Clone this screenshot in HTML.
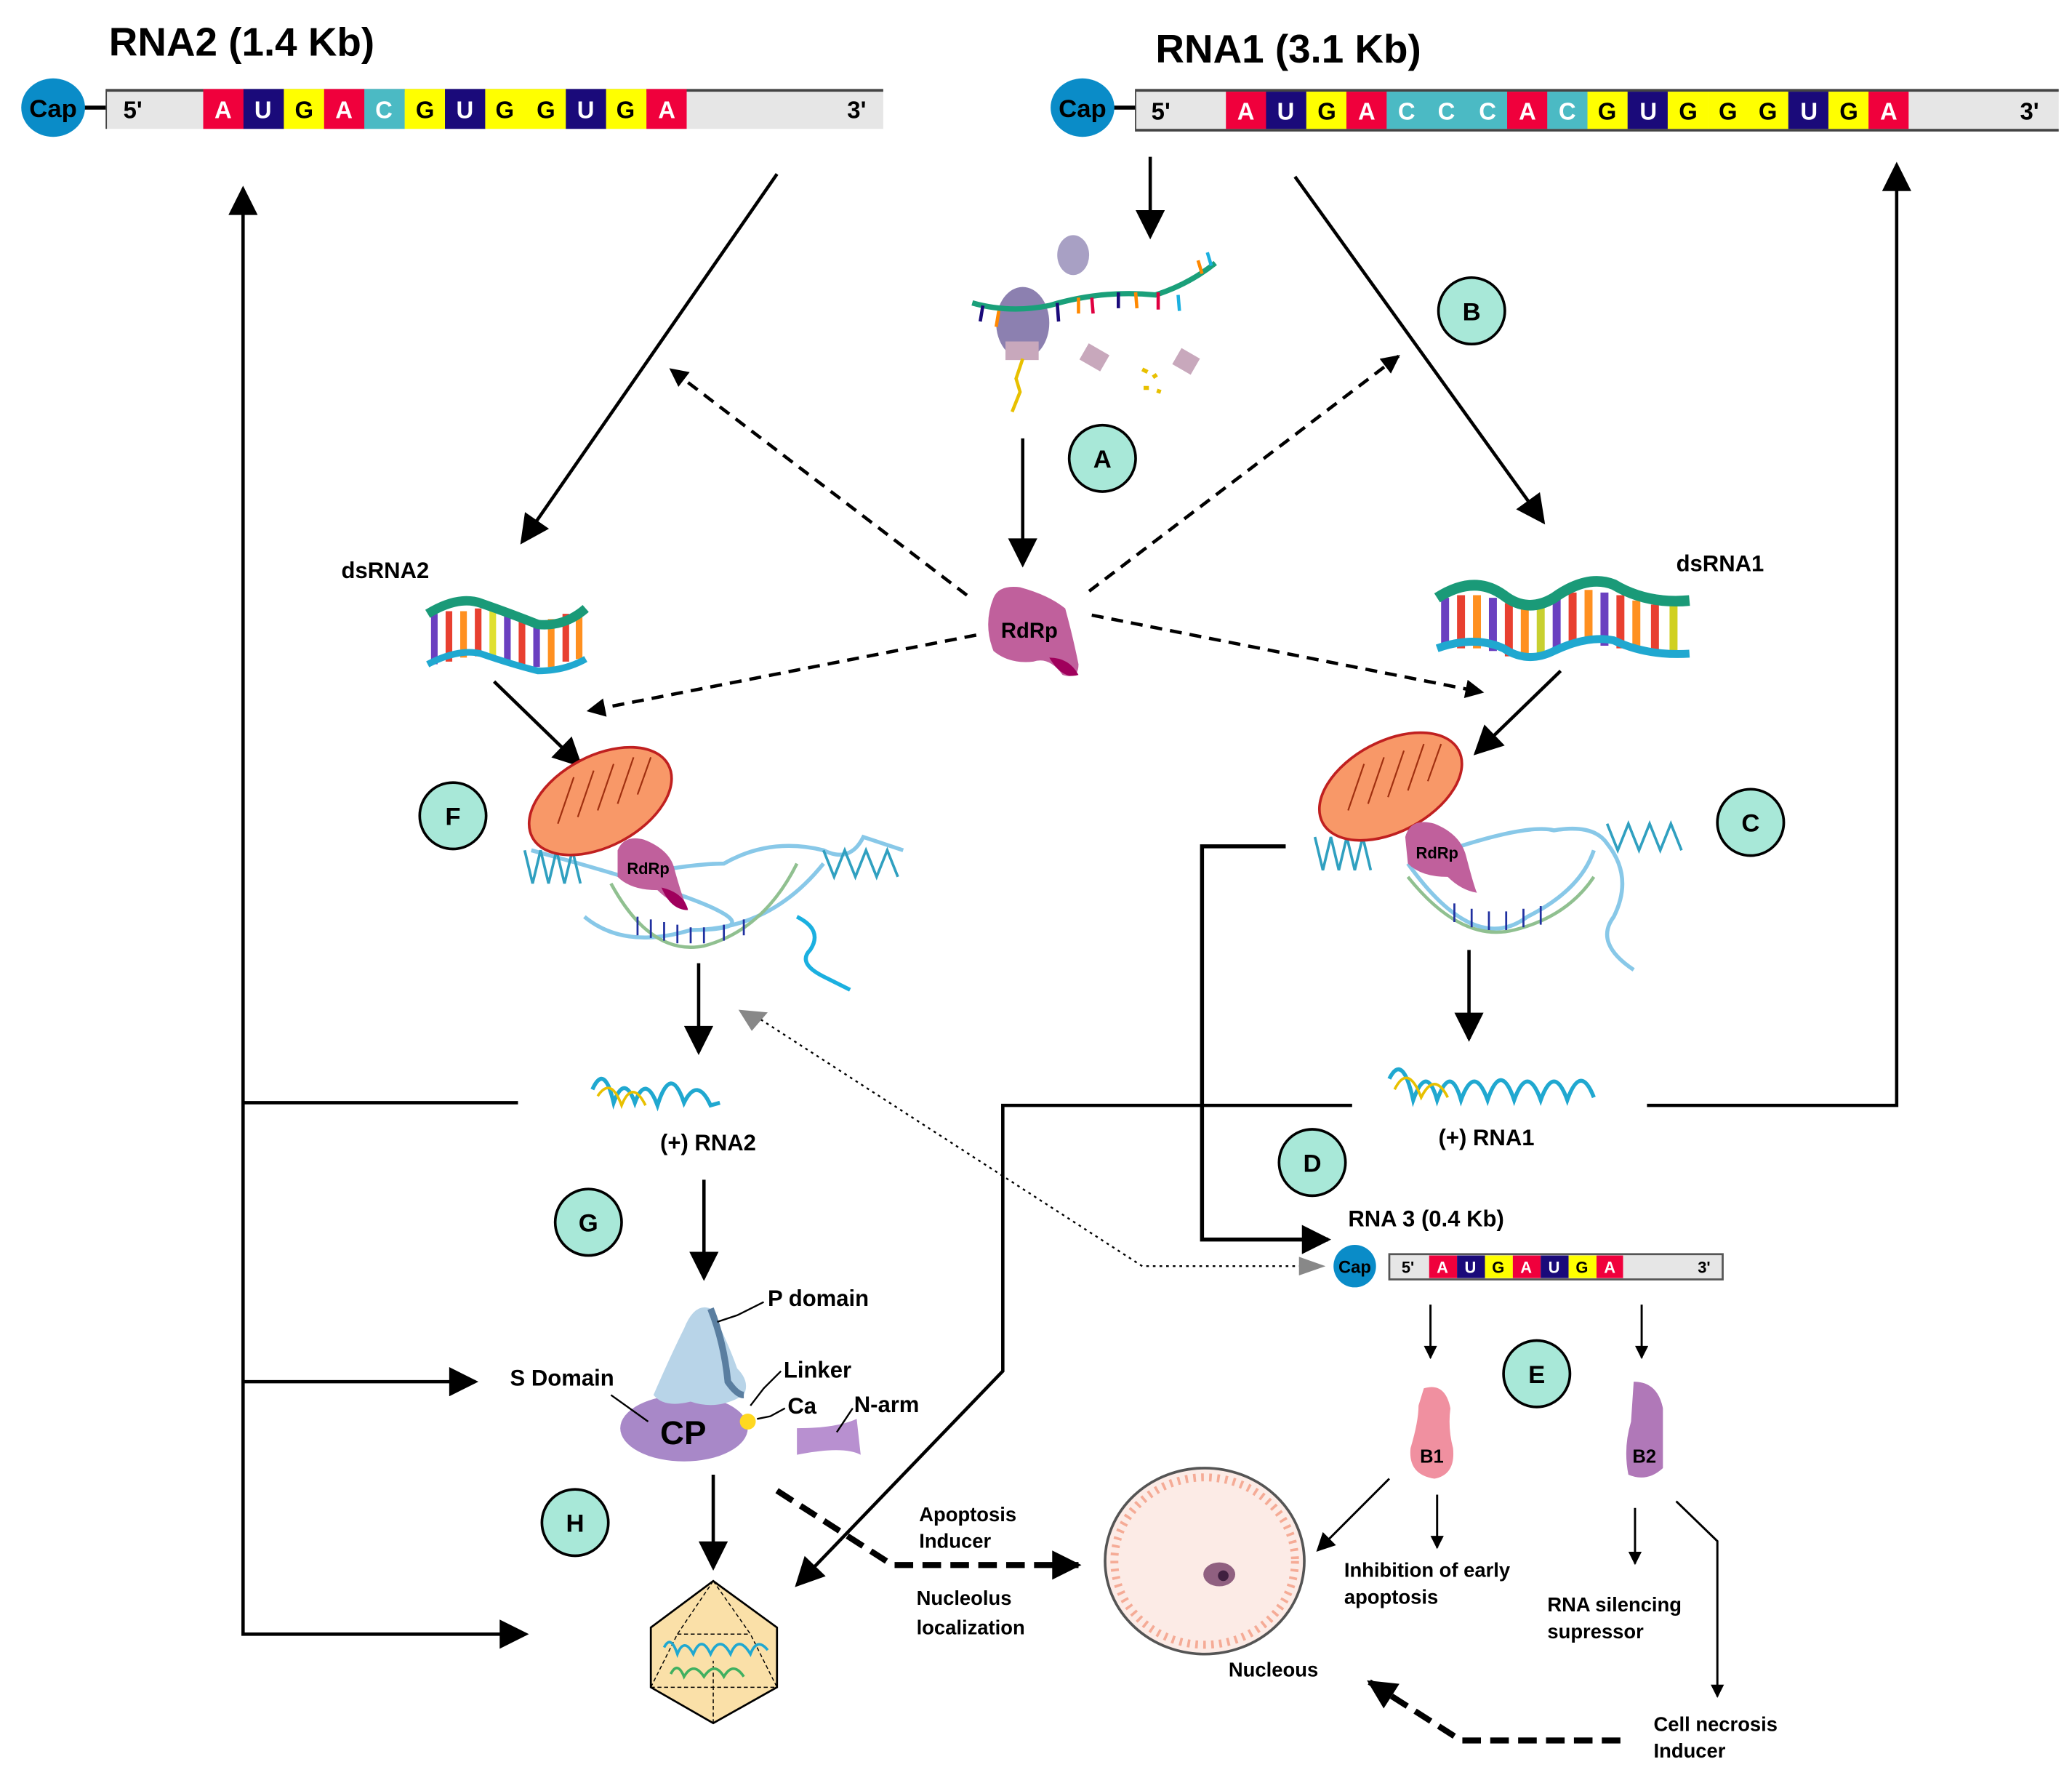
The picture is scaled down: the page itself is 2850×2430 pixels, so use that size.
<!DOCTYPE html>
<html><head><meta charset="utf-8"><style>
html,body{margin:0;padding:0;background:#fff;}
svg{display:block;}
text{font-family:"Liberation Sans",sans-serif;font-weight:bold;}
</style></head><body>
<svg width="2850" height="2430" viewBox="0 0 1560 1330" preserveAspectRatio="none" xmlns="http://www.w3.org/2000/svg">
<defs>
<marker id="ah" viewBox="0 0 10 10" refX="9" refY="5" markerWidth="5" markerHeight="5" orient="auto" markerUnits="userSpaceOnUse"><path d="M0,0 L10,5 L0,10 z" fill="#000"/></marker>
<marker id="ahL" viewBox="0 0 10 10" refX="9" refY="5" markerWidth="26" markerHeight="22" orient="auto" markerUnits="userSpaceOnUse"><path d="M0,0 L10,5 L0,10 z" fill="#000"/></marker>
<marker id="ahM" viewBox="0 0 10 10" refX="9" refY="5" markerWidth="18" markerHeight="14" orient="auto" markerUnits="userSpaceOnUse"><path d="M0,0 L10,5 L0,10 z" fill="#000"/></marker>
<marker id="ahS" viewBox="0 0 10 10" refX="9" refY="5" markerWidth="12" markerHeight="10" orient="auto" markerUnits="userSpaceOnUse"><path d="M0,0 L10,5 L0,10 z" fill="#000"/></marker>
<marker id="ahG" viewBox="0 0 10 10" refX="9" refY="5" markerWidth="20" markerHeight="18" orient="auto" markerUnits="userSpaceOnUse"><path d="M0,0 L10,5 L0,10 z" fill="#888"/></marker>
</defs>

<!-- Titles -->
<text x="82" y="42" font-size="30">RNA2 (1.4 Kb)</text>
<text x="870" y="47" font-size="30">RNA1 (3.1 Kb)</text>

<!-- RNA2 bar -->
<line x1="60" y1="81" x2="82" y2="81" stroke="#000" stroke-width="3"/>
<rect x="80" y="67" width="585" height="30" fill="#e6e6e6"/>
<line x1="80" y1="68" x2="665" y2="68" stroke="#444" stroke-width="2"/>
<line x1="80" y1="67" x2="80" y2="97" stroke="#444" stroke-width="1"/>
<g font-size="17" font-weight="normal">
<rect x="153" y="67" width="30.5" height="30" fill="#f0003c"/>
<rect x="183.3" y="67" width="30.5" height="30" fill="#1a0a7a"/>
<rect x="213.7" y="67" width="30.5" height="30" fill="#ffff00"/>
<rect x="244" y="67" width="30.5" height="30" fill="#f0003c"/>
<rect x="274.3" y="67" width="30.5" height="30" fill="#4bbac4"/>
<rect x="304.7" y="67" width="30.5" height="30" fill="#ffff00"/>
<rect x="335" y="67" width="30.5" height="30" fill="#1a0a7a"/>
<rect x="365.3" y="67" width="30.5" height="30" fill="#ffff00"/>
<rect x="395.7" y="67" width="30.5" height="30" fill="#ffff00"/>
<rect x="426" y="67" width="30.5" height="30" fill="#1a0a7a"/>
<rect x="456.3" y="67" width="30.5" height="30" fill="#ffff00"/>
<rect x="486.7" y="67" width="30.3" height="30" fill="#f0003c"/>
</g>
<g font-size="18" text-anchor="middle" style="font-weight:normal">
<text x="168" y="89" fill="#fff" font-weight="normal">A</text><text x="198" y="89" fill="#fff" font-weight="normal">U</text><text x="229" y="89" font-weight="normal">G</text><text x="259" y="89" fill="#fff" font-weight="normal">A</text><text x="289" y="89" fill="#fff" font-weight="normal">C</text><text x="320" y="89" font-weight="normal">G</text><text x="350" y="89" fill="#fff" font-weight="normal">U</text><text x="380" y="89" font-weight="normal">G</text><text x="411" y="89" font-weight="normal">G</text><text x="441" y="89" fill="#fff" font-weight="normal">U</text><text x="471" y="89" font-weight="normal">G</text><text x="502" y="89" fill="#fff" font-weight="normal">A</text>
<text x="100" y="89" font-weight="normal">5'</text><text x="645" y="89" font-weight="normal">3'</text>
</g>
<ellipse cx="40" cy="81" rx="24" ry="22" fill="#0a8cc8"/>
<text x="40" y="88" font-size="19" text-anchor="middle">Cap</text>

<!-- RNA1 bar -->
<line x1="835" y1="81" x2="857" y2="81" stroke="#000" stroke-width="3"/>
<rect x="855" y="67" width="695" height="32" fill="#e6e6e6"/>
<line x1="855" y1="68" x2="1550" y2="68" stroke="#444" stroke-width="2"/>
<line x1="855" y1="98" x2="1550" y2="98" stroke="#444" stroke-width="2"/>
<line x1="855" y1="67" x2="855" y2="99" stroke="#444" stroke-width="1"/>
<rect x="923" y="69" width="30.4" height="28" fill="#f0003c"/>
<rect x="953.2" y="69" width="30.4" height="28" fill="#1a0a7a"/>
<rect x="983.5" y="69" width="30.4" height="28" fill="#ffff00"/>
<rect x="1013.7" y="69" width="30.4" height="28" fill="#f0003c"/>
<rect x="1044" y="69" width="30.4" height="28" fill="#4bbac4"/>
<rect x="1074.2" y="69" width="30.4" height="28" fill="#4bbac4"/>
<rect x="1104.4" y="69" width="30.4" height="28" fill="#4bbac4"/>
<rect x="1134.7" y="69" width="30.4" height="28" fill="#f0003c"/>
<rect x="1164.9" y="69" width="30.4" height="28" fill="#4bbac4"/>
<rect x="1195.2" y="69" width="30.4" height="28" fill="#ffff00"/>
<rect x="1225.4" y="69" width="30.4" height="28" fill="#1a0a7a"/>
<rect x="1255.6" y="69" width="30.4" height="28" fill="#ffff00"/>
<rect x="1285.9" y="69" width="30.4" height="28" fill="#ffff00"/>
<rect x="1316.1" y="69" width="30.4" height="28" fill="#ffff00"/>
<rect x="1346.4" y="69" width="30.4" height="28" fill="#1a0a7a"/>
<rect x="1376.6" y="69" width="30.4" height="28" fill="#ffff00"/>
<rect x="1406.8" y="69" width="30.2" height="28" fill="#f0003c"/>
<g font-size="18" text-anchor="middle" font-weight="normal">
<text x="938" y="90" fill="#fff" font-weight="normal">A</text><text x="968" y="90" fill="#fff" font-weight="normal">U</text><text x="999" y="90" font-weight="normal">G</text><text x="1029" y="90" fill="#fff" font-weight="normal">A</text><text x="1059" y="90" fill="#fff" font-weight="normal">C</text><text x="1089" y="90" fill="#fff" font-weight="normal">C</text><text x="1120" y="90" fill="#fff" font-weight="normal">C</text><text x="1150" y="90" fill="#fff" font-weight="normal">A</text><text x="1180" y="90" fill="#fff" font-weight="normal">C</text><text x="1210" y="90" font-weight="normal">G</text><text x="1241" y="90" fill="#fff" font-weight="normal">U</text><text x="1271" y="90" font-weight="normal">G</text><text x="1301" y="90" font-weight="normal">G</text><text x="1331" y="90" font-weight="normal">G</text><text x="1362" y="90" fill="#fff" font-weight="normal">U</text><text x="1392" y="90" font-weight="normal">G</text><text x="1422" y="90" fill="#fff" font-weight="normal">A</text>
<text x="874" y="90" font-weight="normal">5'</text><text x="1528" y="90" font-weight="normal">3'</text>
</g>
<ellipse cx="815" cy="81" rx="24" ry="22" fill="#0a8cc8"/>
<text x="815" y="88" font-size="19" text-anchor="middle">Cap</text>

<!-- main solid arrows -->
<g stroke="#000" stroke-width="2.5" fill="none">
<polyline points="395,1230 183,1230 183,142" marker-end="url(#ahL)"/>
<line x1="183" y1="830" x2="390" y2="830"/>
<line x1="183" y1="1040" x2="358" y2="1040" marker-end="url(#ahL)"/>
<line x1="395" y1="1230" x2="396" y2="1230" marker-end="url(#ahL)"/>
<line x1="585" y1="131" x2="393" y2="408" marker-end="url(#ahL)"/>
<line x1="866" y1="118" x2="866" y2="178" marker-end="url(#ahL)"/>
<line x1="975" y1="133" x2="1162" y2="393" marker-end="url(#ahL)"/>
<polyline points="1240,832 1428,832 1428,124" marker-end="url(#ahL)"/>
<line x1="770" y1="330" x2="770" y2="425" marker-end="url(#ahL)"/>
<line x1="372" y1="513" x2="437" y2="576" marker-end="url(#ahL)"/>
<line x1="1175" y1="505" x2="1111" y2="567" marker-end="url(#ahL)"/>
<line x1="526" y1="725" x2="526" y2="792" marker-end="url(#ahL)"/>
<line x1="1106" y1="715" x2="1106" y2="782" marker-end="url(#ahL)"/>
<polyline points="968,637 905,637 905,933 1000,933" stroke-width="3" marker-end="url(#ahL)"/>
<polyline points="1018,832 755,832 755,1032 600,1193" marker-end="url(#ahL)"/>
<line x1="530" y1="888" x2="530" y2="962" marker-end="url(#ahL)"/>
<line x1="537" y1="1110" x2="537" y2="1180" marker-end="url(#ahL)"/>
</g>
<g stroke="#000" stroke-width="1.6" fill="none">
<line x1="1077" y1="982" x2="1077" y2="1022" marker-end="url(#ahS)"/>
<line x1="1236" y1="982" x2="1236" y2="1022" marker-end="url(#ahS)"/>
<line x1="1046" y1="1113" x2="992" y2="1167" marker-end="url(#ahM)"/>
<line x1="1082" y1="1125" x2="1082" y2="1165" marker-end="url(#ahS)"/>
<line x1="1231" y1="1135" x2="1231" y2="1177" marker-end="url(#ahS)"/>
<polyline points="1262,1130 1293,1160 1293,1277" marker-end="url(#ahS)"/>
</g>

<!-- dashed arrows -->
<g stroke="#000" stroke-width="2.5" fill="none" stroke-dasharray="9,6">
<line x1="728" y1="448" x2="505" y2="278" marker-end="url(#ahM)"/>
<line x1="820" y1="445" x2="1053" y2="268" marker-end="url(#ahM)"/>
<line x1="735" y1="478" x2="443" y2="535" marker-end="url(#ahM)"/>
<line x1="822" y1="463" x2="1116" y2="521" marker-end="url(#ahM)"/>
</g>
<g stroke="#000" stroke-width="4.5" fill="none" stroke-dasharray="14,7">
<polyline points="585,1122 672,1178 812,1178" marker-end="url(#ahL)"/>
<polyline points="1220,1310 1100,1310 1031,1266" marker-end="url(#ahL)"/>
</g>
<g stroke="#000" stroke-width="1.3" fill="none" stroke-dasharray="2,3">
<polyline points="985,953 860,953 566,763"/>
</g>
<polygon points="556,760 578,762 566,776" fill="#888"/>
<polygon points="978,946 998,953 978,960" fill="#888"/>

<!-- A: translation -->
<ellipse cx="808" cy="192" rx="12" ry="15" fill="#a8a0c4"/>
<ellipse cx="770" cy="243" rx="20" ry="27" fill="#8c80b0"/>
<rect x="757" y="257" width="25" height="14" fill="#c8a8bc"/>
<path d="M732,228 Q760,236 790,230 Q830,218 870,222 Q895,214 915,198" stroke="#1aa07a" stroke-width="4" fill="none"/>
<g stroke-width="2.5"><line x1="740" y1="230" x2="738" y2="242" stroke="#1a0a7a"/><line x1="752" y1="234" x2="750" y2="246" stroke="#f80"/><line x1="796" y1="228" x2="797" y2="242" stroke="#1a0a7a"/><line x1="812" y1="224" x2="812" y2="236" stroke="#f80"/><line x1="822" y1="224" x2="823" y2="236" stroke="#e00040"/><line x1="842" y1="220" x2="842" y2="232" stroke="#1a0a7a"/><line x1="855" y1="220" x2="856" y2="232" stroke="#f80"/><line x1="872" y1="220" x2="872" y2="233" stroke="#e00040"/><line x1="887" y1="222" x2="888" y2="234" stroke="#1bb0e0"/><line x1="905" y1="206" x2="902" y2="196" stroke="#f80"/><line x1="912" y1="200" x2="909" y2="190" stroke="#1bb0e0"/></g>
<path d="M770,270 L765,285 L768,295 L762,310" stroke="#e8c000" stroke-width="2.5" fill="none"/>
<rect x="815" y="262" width="18" height="14" fill="#c8a8bc" transform="rotate(30 824 269)"/>
<rect x="885" y="265" width="16" height="14" fill="#c8a8bc" transform="rotate(30 893 272)"/>
<path d="M860,278 l4,2 m4,4 l3,-2 m-10,10 l4,0 m6,2 l3,1" stroke="#e8c000" stroke-width="3"/>

<!-- RdRp center -->
<path d="M748,450 Q752,440 768,442 Q790,448 802,458 Q808,480 812,500 Q812,512 800,508 Q790,494 778,498 Q760,500 748,490 Q740,470 748,450z" fill="#c0609c"/>
<path d="M790,495 Q805,495 812,508 Q800,512 790,495z" fill="#a0005c"/>
<text x="775" y="480" font-size="16" text-anchor="middle">RdRp</text>

<!-- dsRNA2 -->
<text x="257" y="435" font-size="17">dsRNA2</text>
<g>
<g stroke-width="5">
<line x1="327" y1="462" x2="327" y2="500" stroke="#6a40c0"/><line x1="338" y1="460" x2="338" y2="498" stroke="#e84030"/><line x1="349" y1="460" x2="349" y2="495" stroke="#ff9020"/><line x1="360" y1="458" x2="360" y2="494" stroke="#e84030"/><line x1="371" y1="460" x2="371" y2="495" stroke="#e0e030"/><line x1="382" y1="462" x2="382" y2="498" stroke="#6a40c0"/><line x1="393" y1="466" x2="393" y2="500" stroke="#e84030"/><line x1="404" y1="468" x2="404" y2="502" stroke="#6a40c0"/><line x1="415" y1="466" x2="415" y2="502" stroke="#ff9020"/><line x1="426" y1="462" x2="426" y2="498" stroke="#e84030"/><line x1="436" y1="460" x2="436" y2="496" stroke="#ff9020"/>
</g>
<path d="M322,462 Q345,448 362,454 Q385,462 405,470 Q425,472 441,458" stroke="#1a9a78" stroke-width="7" fill="none"/>
<path d="M322,500 Q345,488 362,492 Q385,500 405,505 Q425,505 441,496" stroke="#20a8d0" stroke-width="5" fill="none"/>
</g>
<!-- dsRNA1 -->
<text x="1262" y="430" font-size="17">dsRNA1</text>
<g stroke-width="6">
<line x1="1088" y1="450" x2="1088" y2="488" stroke="#6a40c0"/><line x1="1100" y1="448" x2="1100" y2="488" stroke="#e84030"/><line x1="1112" y1="448" x2="1112" y2="488" stroke="#ff9020"/><line x1="1124" y1="450" x2="1124" y2="490" stroke="#6a40c0"/><line x1="1136" y1="454" x2="1136" y2="494" stroke="#e84030"/><line x1="1148" y1="458" x2="1148" y2="494" stroke="#ff9020"/><line x1="1160" y1="456" x2="1160" y2="492" stroke="#c8d030"/><line x1="1172" y1="450" x2="1172" y2="488" stroke="#6a40c0"/><line x1="1184" y1="446" x2="1184" y2="484" stroke="#e84030"/><line x1="1196" y1="444" x2="1196" y2="484" stroke="#ff9020"/><line x1="1208" y1="446" x2="1208" y2="486" stroke="#6a40c0"/><line x1="1220" y1="448" x2="1220" y2="488" stroke="#e84030"/><line x1="1232" y1="452" x2="1232" y2="490" stroke="#ff9020"/><line x1="1246" y1="455" x2="1246" y2="492" stroke="#e84030"/><line x1="1260" y1="455" x2="1260" y2="492" stroke="#d0d020"/>
</g>
<path d="M1082,450 Q1110,432 1132,448 Q1150,462 1170,450 Q1195,432 1215,440 Q1240,455 1272,452" stroke="#1a9a78" stroke-width="8" fill="none"/>
<path d="M1082,488 Q1110,478 1132,488 Q1150,500 1170,490 Q1195,478 1215,482 Q1240,494 1272,492" stroke="#20a8d0" stroke-width="6" fill="none"/>

<!-- Replication complex F -->
<g>
<path d="M400,640 Q620,700 520,700 Q470,715 440,690 M520,700 Q580,700 620,650 M470,660 Q520,650 545,650 Q580,630 620,640 Q640,650 650,630 L680,640" stroke="#88c8e8" stroke-width="3" fill="none"/>
<path d="M460,665 Q490,720 530,712 Q575,700 600,650" stroke="#90c090" stroke-width="2.5" fill="none"/>
<path d="M600,690 Q620,700 610,715 Q600,725 620,735 Q630,740 640,745" stroke="#1bb0e0" stroke-width="3" fill="none"/>
<path d="M395,640 l6,25 l6,-25 l6,25 l6,-25 l6,25 l6,-25 l6,25 M620,640 l8,20 l8,-20 l8,20 l8,-20 l8,20 l8,-20 l8,20" stroke="#30a0c0" stroke-width="2" fill="none"/>
<path d="M480,690 l0,14 M490,692 l0,14 M500,694 l0,14 M510,696 l0,14 M520,698 l0,12 M530,698 l0,12 M545,696 l0,12 M560,692 l0,12" stroke="#2030a0" stroke-width="1.5"/>
<ellipse cx="452" cy="603" rx="58" ry="34" fill="#f89868" stroke="#c02020" stroke-width="2" transform="rotate(-28 452 603)"/>
<path d="M420,620 l12,-35 M435,615 l12,-35 M450,610 l12,-35 M465,605 l12,-35 M480,598 l10,-28" stroke="#a03010" stroke-width="1.2"/>
<path d="M465,640 Q470,628 485,632 Q505,640 508,655 Q515,680 518,684 Q505,680 495,670 Q475,670 465,660z" fill="#c0609c"/>
<path d="M498,668 Q515,672 518,685 Q505,685 498,668z" fill="#a0005c"/>
<text x="488" y="658" font-size="12" text-anchor="middle">RdRp</text>
</g>
<!-- Replication complex C -->
<g>
<path d="M990,630 l6,25 l6,-25 l6,25 l6,-25 l6,25 l6,-25 l6,25 M1210,620 l8,20 l8,-20 l8,20 l8,-20 l8,20 l8,-20 l8,20" stroke="#30a0c0" stroke-width="2" fill="none"/>
<path d="M1060,650 Q1110,720 1150,690 Q1190,670 1200,640 M1090,640 Q1150,620 1170,625 Q1200,620 1210,635 Q1230,660 1215,690 Q1200,710 1230,730" stroke="#88c8e8" stroke-width="3" fill="none"/>
<path d="M1060,660 Q1100,710 1140,700 Q1180,690 1200,660" stroke="#90c090" stroke-width="2.5" fill="none"/>
<path d="M1095,680 l0,14 M1108,684 l0,14 M1121,686 l0,14 M1134,686 l0,14 M1147,684 l0,14 M1160,682 l0,14" stroke="#2030a0" stroke-width="1.5"/>
<ellipse cx="1047" cy="592" rx="58" ry="34" fill="#f89868" stroke="#c02020" stroke-width="2" transform="rotate(-28 1047 592)"/>
<path d="M1015,610 l12,-35 M1030,605 l12,-35 M1045,600 l12,-35 M1060,595 l12,-35 M1075,588 l10,-28" stroke="#a03010" stroke-width="1.2"/>
<path d="M1058,630 Q1062,615 1080,620 Q1100,628 1104,645 Q1110,668 1112,672 Q1100,670 1090,660 Q1070,660 1060,650z" fill="#c0609c"/>
<text x="1082" y="646" font-size="12" text-anchor="middle">RdRp</text>
</g>

<!-- (+) RNA strands -->
<path d="M446,820 Q455,800 462,830 Q470,808 478,830 Q486,808 495,832 Q505,800 515,830 Q525,810 535,832 L542,830" stroke="#20a8d0" stroke-width="3" fill="none"/>
<path d="M450,825 Q460,810 468,832 Q476,812 486,832" stroke="#e8c000" stroke-width="2" fill="none"/>
<text x="497" y="866" font-size="17">(+) RNA2</text>
<path d="M1046,812 Q1056,792 1064,828 Q1074,800 1082,828 Q1092,800 1100,828 Q1110,800 1120,828 Q1130,798 1140,828 Q1150,800 1160,828 Q1170,800 1180,828 Q1190,800 1200,826" stroke="#20a8d0" stroke-width="3" fill="none"/>
<path d="M1050,820 Q1060,800 1070,826 Q1080,806 1090,826" stroke="#e8c000" stroke-width="2" fill="none"/>
<text x="1083" y="862" font-size="17">(+) RNA1</text>

<!-- RNA3 -->
<text x="1015" y="923" font-size="17">RNA 3 (0.4 Kb)</text>
<rect x="1046" y="944" width="251" height="19" fill="#e6e6e6" stroke="#555" stroke-width="1.5"/>
<rect x="1076" y="945" width="21" height="17" fill="#f0003c"/>
<rect x="1097" y="945" width="21" height="17" fill="#1a0a7a"/>
<rect x="1118" y="945" width="21" height="17" fill="#ffff00"/>
<rect x="1139" y="945" width="21" height="17" fill="#f0003c"/>
<rect x="1160" y="945" width="21" height="17" fill="#1a0a7a"/>
<rect x="1181" y="945" width="21" height="17" fill="#ffff00"/>
<rect x="1202" y="945" width="20" height="17" fill="#f0003c"/>
<g font-size="12" text-anchor="middle">
<text x="1086" y="958" fill="#fff" font-weight="normal">A</text><text x="1107" y="958" fill="#fff" font-weight="normal">U</text><text x="1128" y="958" font-weight="normal">G</text><text x="1149" y="958" fill="#fff" font-weight="normal">A</text><text x="1170" y="958" fill="#fff" font-weight="normal">U</text><text x="1191" y="958" font-weight="normal">G</text><text x="1212" y="958" fill="#fff" font-weight="normal">A</text>
<text x="1060" y="958" font-weight="normal">5'</text><text x="1283" y="958" font-weight="normal">3'</text>
</g>
<circle cx="1020" cy="953" r="16" fill="#0a8cc8"/>
<text x="1020" y="958" font-size="13" text-anchor="middle">Cap</text>

<!-- CP -->
<path d="M600,1075 Q630,1075 645,1068 L648,1095 Q635,1088 600,1095z" fill="#b890d0"/>
<ellipse cx="515" cy="1075" rx="48" ry="25" fill="#a888c8"/>
<path d="M492,1050 Q505,1020 515,1000 Q523,980 535,985 Q548,1010 555,1030 Q565,1040 560,1050 Q540,1062 520,1055 Q500,1060 492,1050z" fill="#b8d4e8"/>
<path d="M535,985 Q545,1010 548,1040 Q555,1050 560,1050" stroke="#5a7ea0" stroke-width="5" fill="none"/>
<circle cx="563" cy="1070" r="6" fill="#ffd820"/>
<text x="497" y="1087" font-size="25" font-weight="normal">CP</text>
<g font-size="17">
<text x="578" y="983">P domain</text>
<text x="384" y="1043">S Domain</text>
<text x="590" y="1037">Linker</text>
<text x="593" y="1064">Ca</text>
<text x="643" y="1063">N-arm</text>
</g>
<g stroke="#000" stroke-width="1.3" fill="none">
<polyline points="575,980 555,990 540,995"/>
<line x1="460" y1="1050" x2="488" y2="1070"/>
<polyline points="588,1032 575,1045 565,1058"/>
<polyline points="591,1060 580,1066 570,1068"/>
<line x1="642" y1="1060" x2="630" y2="1078"/>
</g>

<!-- Virion -->
<polygon points="537,1190 585,1225 585,1270 537,1297 490,1270 490,1225" fill="#fae0a8" stroke="#000" stroke-width="1.5"/>
<path d="M537,1190 L510,1230 L490,1270 M537,1190 L565,1230 L585,1270 M490,1270 L585,1270 M537,1297 L537,1250 M510,1230 L565,1230" stroke="#000" stroke-width="0.8" stroke-dasharray="3,2" fill="none"/>
<path d="M500,1240 Q505,1230 510,1245 Q515,1232 522,1245 Q528,1230 535,1245 Q542,1230 550,1245 Q556,1230 565,1245 Q570,1232 578,1242" stroke="#20a8d0" stroke-width="2" fill="none"/>
<path d="M505,1260 Q510,1250 515,1262 Q522,1250 530,1262 Q538,1250 545,1262 Q552,1250 560,1262" stroke="#40b060" stroke-width="2" fill="none"/>

<!-- labels -->
<g font-size="15">
<text x="692" y="1145">Apoptosis</text>
<text x="692" y="1165">Inducer</text>
<text x="690" y="1208">Nucleolus</text>
<text x="690" y="1230">localization</text>
<text x="925" y="1262">Nucleous</text>
<text x="1012" y="1187">Inhibition of early</text>
<text x="1012" y="1207">apoptosis</text>
<text x="1165" y="1213">RNA silencing</text>
<text x="1165" y="1233">supressor</text>
<text x="1245" y="1303">Cell necrosis</text>
<text x="1245" y="1323">Inducer</text>
</g>

<!-- nucleus -->
<ellipse cx="907" cy="1175" rx="75" ry="70" fill="#fcebe6" stroke="#555" stroke-width="2"/>
<ellipse cx="907" cy="1175" rx="68" ry="63" fill="none" stroke="#f08060" stroke-width="6" stroke-dasharray="2,4" opacity="0.6"/>
<ellipse cx="918" cy="1185" rx="12" ry="9" fill="#906080"/>
<circle cx="921" cy="1186" r="4" fill="#402040"/>

<!-- B1 B2 -->
<path d="M1072,1045 Q1088,1040 1092,1060 Q1090,1075 1094,1090 Q1096,1110 1080,1113 Q1060,1110 1062,1090 Q1068,1070 1068,1058z" fill="#f090a0"/>
<text x="1078" y="1101" font-size="14" text-anchor="middle">B1</text>
<path d="M1230,1040 Q1248,1040 1252,1060 Q1252,1090 1252,1105 Q1240,1116 1226,1110 Q1222,1090 1228,1070z" fill="#b078b8"/>
<text x="1238" y="1101" font-size="14" text-anchor="middle">B2</text>

<!-- circle labels -->
<g stroke="#000" stroke-width="2" fill="#a8e8d8">
<circle cx="830" cy="345" r="25"/><circle cx="1108" cy="234" r="25"/><circle cx="1318" cy="619" r="25"/><circle cx="988" cy="875" r="25"/><circle cx="1157" cy="1034" r="25"/><circle cx="341" cy="614" r="25"/><circle cx="443" cy="920" r="25"/><circle cx="433" cy="1146" r="25"/>
</g>
<g font-size="19" text-anchor="middle">
<text x="830" y="352">A</text><text x="1108" y="241">B</text><text x="1318" y="626">C</text><text x="988" y="882">D</text><text x="1157" y="1041">E</text><text x="341" y="621">F</text><text x="443" y="927">G</text><text x="433" y="1153">H</text>
</g>
</svg>
</body></html>
